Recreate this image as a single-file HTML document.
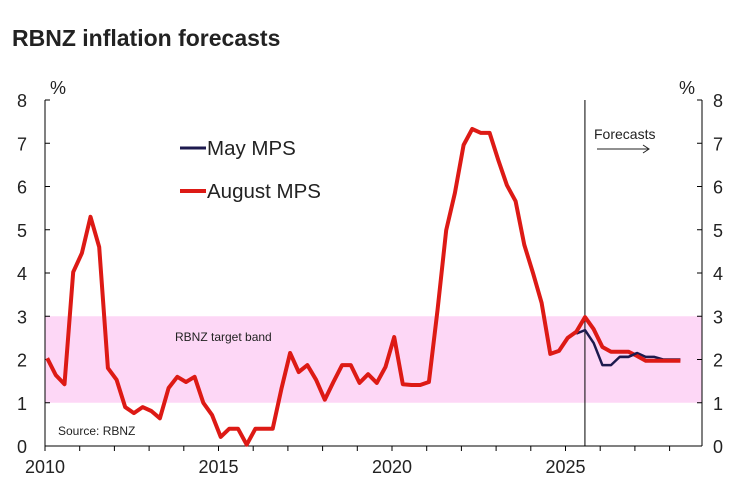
<!DOCTYPE html>
<html><head><meta charset="utf-8"><style>
body{margin:0;background:#fff;}
svg{display:block;font-family:"Liberation Sans",sans-serif;}
</style></head><body>
<svg id="chart" width="749" height="503">
<text x="12" y="46" font-size="23" font-weight="bold" fill="#222">RBNZ inflation forecasts</text>
<g id="g"></g>
</svg>
<script>
const years=[2010,2015,2020,2025];
const yTicks=[0,1,2,3,4,5,6,7,8];
const bandRange=[1,3];
const forecastStart=2025.56;
const startYear=2010.0625;
const augustMPS=[2.03,1.64,1.43,4.02,4.46,5.3,4.6,1.8,1.53,0.9,0.76,0.9,0.81,0.64,1.34,1.6,1.48,1.6,1.0,0.72,0.21,0.4,0.4,0.03,0.4,0.4,0.4,1.32,2.15,1.71,1.87,1.53,1.07,1.48,1.87,1.87,1.46,1.66,1.46,1.83,2.52,1.43,1.41,1.41,1.48,3.14,4.99,5.85,6.96,7.33,7.24,7.24,6.61,6.03,5.66,4.65,4.0,3.31,2.13,2.2,2.5,2.64,2.98,2.7,2.29,2.18,2.18,2.18,2.08,1.97,1.97,1.97,1.97,1.97];
const mayMPS=[null,null,null,null,null,null,null,null,null,null,null,null,null,null,null,null,null,null,null,null,null,null,null,null,null,null,null,null,null,null,null,null,null,null,null,null,null,null,null,null,null,null,null,null,null,null,null,null,null,null,null,null,null,null,null,null,null,null,null,null,null,2.6,2.68,2.38,1.87,1.87,2.06,2.06,2.15,2.06,2.06,2.0,2.0,2.0];
const X=t=>45+(t-2010)*34.7;
const Y=v=>446-v*43.25;
const ns="http://www.w3.org/2000/svg";
const g=document.getElementById('g');
function mk(tag,a,txt){const e=document.createElementNS(ns,tag);for(const k in a)e.setAttribute(k,a[k]);if(txt!==undefined)e.textContent=txt;g.appendChild(e);return e;}
let e;
e=mk('rect',{x:45,y:Y(bandRange[1]),width:657,height:Y(bandRange[0])-Y(bandRange[1]),fill:'#fdd7f6'});


e=mk('text',{x:175,y:341,'font-size':12,fill:'#222'},'RBNZ target band');


e=mk('text',{x:58,y:435,'font-size':12,fill:'#222'},'Source: RBNZ');


mk('line',{x1:45,y1:100,x2:45,y2:446,stroke:'#000','stroke-width':1});
mk('line',{x1:702,y1:100,x2:702,y2:446,stroke:'#000','stroke-width':1});
mk('line',{x1:45,y1:446,x2:702,y2:446,stroke:'#000','stroke-width':1});
yTicks.forEach(v=>{
 mk('line',{x1:45,y1:Y(v),x2:50,y2:Y(v),stroke:'#000'});
 mk('line',{x1:697,y1:Y(v),x2:702,y2:Y(v),stroke:'#000'});
 e=mk('text',{x:27,y:Y(v)+7,'font-size':18,'text-anchor':'end',fill:'#222'},v);
 
 
 e=mk('text',{x:713,y:Y(v)+7,'font-size':18,fill:'#222'},v);
 
 
});
for(let yr=2010;yr<=2028;yr++){mk('line',{x1:X(yr),y1:446,x2:X(yr),y2:451,stroke:'#000'});}
years.forEach(yr=>{
 e=mk('text',{x:X(yr),y:473,'font-size':18,'text-anchor':'middle',fill:'#222'},yr);
 
 
});
e=mk('text',{x:50,y:94,'font-size':18,fill:'#222'},'%');


e=mk('text',{x:679,y:94,'font-size':18,fill:'#222'},'%');


e=mk('line',{x1:X(forecastStart),y1:100,x2:X(forecastStart),y2:446,stroke:'#000','stroke-width':1});


e=mk('text',{x:594,y:139,'font-size':14,fill:'#222'},'Forecasts');


mk('path',{d:'M597 149 H649 M643 145 L649 149 L643 153',stroke:'#222',fill:'none','stroke-width':1});
function line(arr,color,w,name){
 let d='';arr.forEach((v,i)=>{if(v===null)return;const t=startYear+i*0.25;d+=(d?'L':'M')+X(t).toFixed(1)+' '+Y(v).toFixed(1);});
 const p=mk('path',{d:d,stroke:color,'stroke-width':w,fill:'none','stroke-linejoin':'round'});
 
 
}
line(mayMPS,'#1d1a4e',2.5,'may-mps-line');
line(augustMPS,'#dd1a15',4,'august-mps-line');
line(mayMPS.map((v,i)=>i>=69?null:(i>=66?v:null)),'#1d1a4e',2.5,'may-mps-line-overlay');
e=mk('line',{x1:180,y1:148,x2:206,y2:148,stroke:'#1d1a4e','stroke-width':3});


e=mk('text',{x:207,y:155,'font-size':20.5,fill:'#222'},'May MPS');


e=mk('line',{x1:180,y1:191,x2:206,y2:191,stroke:'#dd1a15','stroke-width':4});


e=mk('text',{x:207,y:198,'font-size':20.5,fill:'#222'},'August MPS');


</script>
</body></html>
